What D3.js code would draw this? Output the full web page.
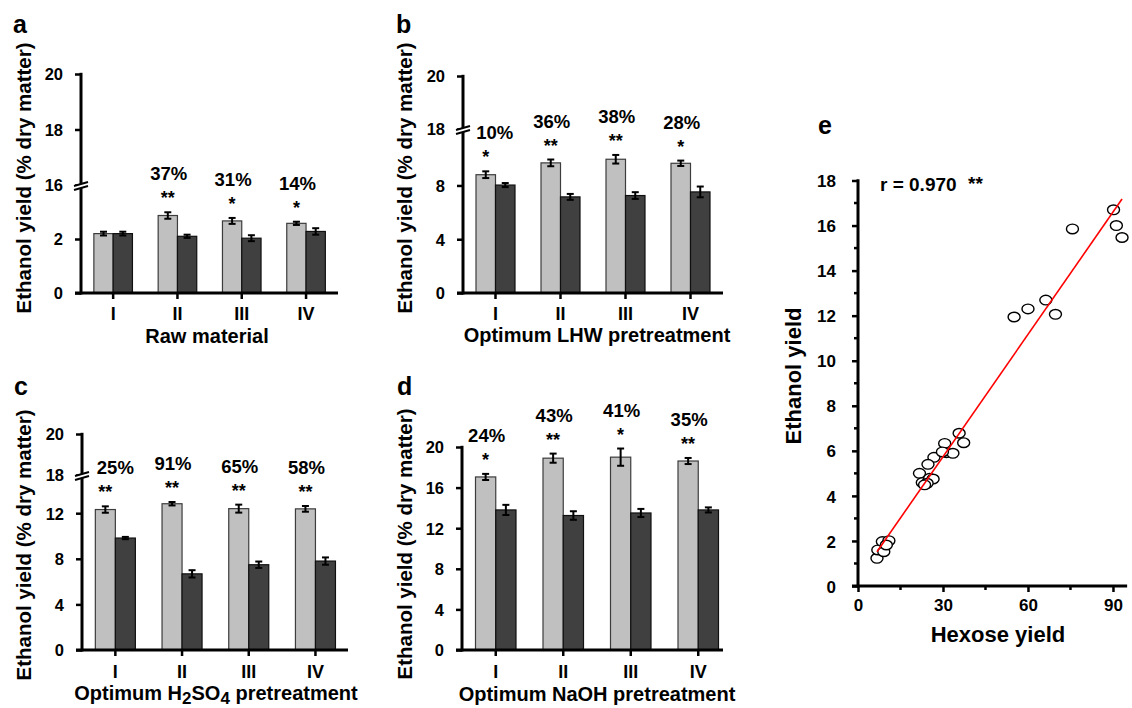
<!DOCTYPE html>
<html>
<head>
<meta charset="utf-8">
<script src="https://cdn.jsdelivr.net/npm/d3@7"></script>
<style>
  html, body { margin: 0; padding: 0; background: #fff; }
  svg { display: block; }
  text { font-family: "Liberation Sans", Arial, Helvetica, sans-serif; font-weight: bold; fill: #000; }
</style>
</head>
<body>
<svg id="chart" width="1132" height="708"></svg>
<script>
// ---------------- DATA ----------------
const categories = ["I", "II", "III", "IV"];

// Panel a: Raw material
const rawLight    = [2.20, 2.87, 2.67, 2.58];
const rawLightErr = [0.07, 0.12, 0.11, 0.06];
const rawDark     = [2.20, 2.10, 2.03, 2.28];
const rawDarkErr  = [0.07, 0.06, 0.11, 0.12];
const rawPct      = ["", "37%", "31%", "14%"];
const rawSig      = ["", "**", "*", "*"];
const rawTicks    = [0, 2, 16, 18, 20];

// Panel b: Optimum LHW pretreatment
const lhwLight    = [8.80, 9.68, 9.95, 9.65];
const lhwLightErr = [0.25, 0.25, 0.32, 0.20];
const lhwDark     = [8.03, 7.15, 7.25, 7.52];
const lhwDarkErr  = [0.15, 0.22, 0.25, 0.40];
const lhwPct      = ["10%", "36%", "38%", "28%"];
const lhwSig      = ["*", "**", "**", "*"];
const lhwTicks    = [0, 4, 8, 18, 20];

// Panel c: Optimum H2SO4 pretreatment
const acidLight    = [12.32, 12.83, 12.40, 12.38];
const acidLightErr = [0.28, 0.15, 0.35, 0.25];
const acidDark     = [9.82, 6.68, 7.48, 7.80];
const acidDarkErr  = [0.10, 0.32, 0.28, 0.32];
const acidPct      = ["25%", "91%", "65%", "58%"];
const acidSig      = ["**", "**", "**", "**"];
const acidTicks    = [0, 4, 8, 12, 18, 20];

// Panel d: Optimum NaOH pretreatment
const alkLight    = [17.05, 18.90, 19.00, 18.62];
const alkLightErr = [0.30, 0.45, 0.85, 0.30];
const alkDark     = [13.80, 13.25, 13.50, 13.80];
const alkDarkErr  = [0.50, 0.42, 0.40, 0.25];
const alkPct      = ["24%", "43%", "41%", "35%"];
const alkSig      = ["*", "**", "*", "**"];
const alkTicks    = [0, 4, 8, 12, 16, 20];

// Panel e: correlation
const hexoseYield  = [90.2, 91.2, 93.2, 75.7, 66.3, 69.7, 60.0, 55.1,
                      35.7, 37.3, 30.6, 31.2, 33.5, 26.8, 24.7, 21.7, 22.7, 25.3, 26.5, 24.4, 23.5, 29.8,
                      6.7, 7.0, 9.1, 8.6, 10.9, 10.0];
const ethanolYield = [16.70, 16.00, 15.47, 15.85, 12.69, 12.06, 12.30, 11.94,
                      6.78, 6.36, 6.33, 5.92, 5.89, 5.71, 5.40, 5.00, 4.59, 4.78, 4.75, 4.56, 4.49, 5.95,
                      1.23, 1.60, 1.52, 1.97, 2.01, 1.82];
const fitSlope = 0.181, fitIntercept = 0.307, fitRange = [6.7, 93.2];
const corrText = "r = 0.970";
const corrSig = "**";
const eXTicks = [0, 30, 60, 90];
const eXMinor = [15, 45, 75];
const eYTicks = [0, 2, 4, 6, 8, 10, 12, 14, 16, 18];
const eYMinor = [1, 3, 5, 7, 9, 11, 13, 15, 17];

// ---------------- DRAWING ----------------
const svg = d3.select("#chart");
const LIGHT = "#c0c0c0", LIGHT_STROKE = "#3c3c3c", DARK = "#404040", DARK_STROKE = "#101010";

function drawBarPanel(cfg) {
  const g = svg.append("g");
  const step = cfg.step;
  const x = d3.scaleBand().domain(categories)
      .range([cfg.axisX, cfg.axisX + 4 * step]).paddingInner(0.4).paddingOuter(0.2);
  const x1 = d3.scaleBand().domain(["light", "dark"]).range([0, x.bandwidth()]);
  const y = d3.scaleLinear().domain(cfg.yDomain).range(cfg.yRange);

  // bars
  const series = [
    {key: "light", vals: cfg.light, errs: cfg.lightErr, fill: LIGHT, stroke: LIGHT_STROKE},
    {key: "dark",  vals: cfg.dark,  errs: cfg.darkErr,  fill: DARK,  stroke: DARK_STROKE}
  ];
  series.forEach(s => {
    const data = categories.map((c, i) => ({c, v: s.vals[i], e: s.errs[i]}));
    g.selectAll(null).data(data).enter().append("rect")
      .attr("x", d => x(d.c) + x1(s.key))
      .attr("y", d => y(d.v))
      .attr("width", x1.bandwidth())
      .attr("height", d => y(0) - y(d.v))
      .attr("fill", s.fill).attr("stroke", s.stroke).attr("stroke-width", 1.2);
    const cx = d => x(d.c) + x1(s.key) + x1.bandwidth() / 2;
    g.selectAll(null).data(data).enter().append("line")
      .attr("x1", cx).attr("x2", cx)
      .attr("y1", d => y(d.v - d.e)).attr("y2", d => y(d.v + d.e))
      .attr("stroke", "#000").attr("stroke-width", 2);
    [-1, 1].forEach(sgn => {
      g.selectAll(null).data(data).enter().append("line")
        .attr("x1", d => cx(d) - 3.5).attr("x2", d => cx(d) + 3.5)
        .attr("y1", d => y(d.v + sgn * d.e)).attr("y2", d => y(d.v + sgn * d.e))
        .attr("stroke", "#000").attr("stroke-width", 2);
    });
  });

  // significance labels
  const lab = categories.map((c, i) => ({c, i, pct: cfg.pct[i], sig: cfg.sig[i],
      top: cfg.light[i] + cfg.lightErr[i]}));
  const lx = d => x(d.c) + x1("light") + x1.bandwidth() / 2;
  g.selectAll(null).data(lab.filter(d => d.pct)).enter().append("text")
    .attr("x", d => lx(d) + (cfg.pctShift ? cfg.pctShift[d.i] : 0) + 1)
    .attr("y", d => y(d.top) - 32)
    .attr("text-anchor", "middle").style("font-size", "18.5px").text(d => d.pct);
  g.selectAll(null).data(lab.filter(d => d.sig)).enter().append("text")
    .attr("x", d => lx(d))
    .attr("y", d => y(d.top) - 8)
    .attr("text-anchor", "middle").style("font-size", "18px").text(d => d.sig);

  // y axis
  const yAxis = d3.axisLeft(y).tickValues(cfg.ticks).tickSize(6).tickPadding(12).tickFormat(d3.format("d"));
  const ya = g.append("g").attr("transform", `translate(${cfg.axisX},0)`).call(yAxis);
  ya.select(".domain").remove();
  ya.selectAll(".tick line").attr("stroke", "#000").attr("stroke-width", 2.5);
  ya.selectAll(".tick text").style("font-size", "16.5px").attr("dy", "0.36em");
  g.append("line").attr("x1", cfg.axisX).attr("x2", cfg.axisX)
    .attr("y1", y(20) - 1.2).attr("y2", y(0) + 1.5)
    .attr("stroke", "#000").attr("stroke-width", 3);

  // x axis
  const xAxis = d3.axisBottom(x).tickSize(6).tickPadding(8);
  const xa = g.append("g").attr("transform", `translate(0,${y(0)})`).call(xAxis);
  xa.select(".domain").remove();
  xa.selectAll(".tick line").attr("stroke", "#000").attr("stroke-width", 2.5);
  xa.selectAll(".tick text").style("font-size", "18px").attr("dy", 0)
    .attr("y", cfg.catBaseline - y(0));
  g.append("line").attr("x1", cfg.axisX - 6).attr("x2", cfg.xAxisEnd)
    .attr("y1", y(0)).attr("y2", y(0)).attr("stroke", "#000").attr("stroke-width", 3);

  // axis break
  if (cfg.breakAt !== undefined) {
    const by = y(cfg.breakAt);
    const ax = cfg.axisX;
    g.append("polygon")
      .attr("points", `${ax-7},${by+1} ${ax+7},${by-3} ${ax+7},${by+1} ${ax-7},${by+5}`)
      .attr("fill", "#fff");
    [0, 4].forEach(o => {
      g.append("line").attr("x1", ax - 7).attr("y1", by + 1 + o).attr("x2", ax + 7).attr("y2", by - 3 + o)
        .attr("stroke", "#000").attr("stroke-width", 2);
    });
  }

  // titles
  g.append("text").attr("transform", `translate(${cfg.yTitleX},${cfg.yTitleY}) rotate(-90)`)
    .attr("text-anchor", "middle").style("font-size", "20.5px").text("Ethanol yield (% dry matter)");
  const xt = g.append("text").attr("x", cfg.xTitleX).attr("y", cfg.xTitleY)
    .attr("text-anchor", "middle").style("font-size", "20px");
  cfg.xTitle.forEach(part => {
    const t = xt.append("tspan").text(part.t);
    if (part.sub) t.attr("dy", 3.5).style("font-size", "17px");
    else if (part.after) t.attr("dy", -3.5);
  });
  g.append("text").attr("x", cfg.letterX).attr("y", cfg.letterY)
    .style("font-size", "25px").text(cfg.letter);
}

drawBarPanel({
  letter: "a", letterX: 13, letterY: 33,
  axisX: 81, step: 64.3, xAxisEnd: 338,
  yDomain: [0, 4, 16, 20], yRange: [293, 185, 185, 74], breakAt: 16, ticks: rawTicks,
  light: rawLight, lightErr: rawLightErr, dark: rawDark, darkErr: rawDarkErr,
  pct: rawPct, sig: rawSig, catBaseline: 320,
  yTitleX: 31, yTitleY: 178,
  xTitle: [{t: "Raw material"}], xTitleX: 207, xTitleY: 343
});
drawBarPanel({
  letter: "b", letterX: 396, letterY: 33,
  axisX: 463, step: 65, xAxisEnd: 723,
  yDomain: [0, 12.2, 18, 20], yRange: [293, 129, 129, 76], breakAt: 18, ticks: lhwTicks,
  light: lhwLight, lightErr: lhwLightErr, dark: lhwDark, darkErr: lhwDarkErr,
  pct: lhwPct, sig: lhwSig, pctShift: [8, 0, 0, 0], catBaseline: 320,
  yTitleX: 412, yTitleY: 178,
  xTitle: [{t: "Optimum LHW pretreatment"}], xTitleX: 597, xTitleY: 342
});
drawBarPanel({
  letter: "c", letterX: 14, letterY: 395,
  axisX: 82, step: 66.7, xAxisEnd: 348,
  yDomain: [0, 15.35, 18, 20], yRange: [650, 475, 475, 434], breakAt: 18, ticks: acidTicks,
  light: acidLight, lightErr: acidLightErr, dark: acidDark, darkErr: acidDarkErr,
  pct: acidPct, sig: acidSig, pctShift: [9, 0, 0, 0], catBaseline: 678,
  yTitleX: 31, yTitleY: 545,
  xTitle: [{t: "Optimum H"}, {t: "2", sub: true}, {t: "SO", after: true}, {t: "4", sub: true}, {t: " pretreatment", after: true}],
  xTitleX: 216, xTitleY: 700
});
drawBarPanel({
  letter: "d", letterX: 397, letterY: 395,
  axisX: 462, step: 67.5, xAxisEnd: 723,
  yDomain: [0, 20], yRange: [650, 447], ticks: alkTicks,
  light: alkLight, lightErr: alkLightErr, dark: alkDark, darkErr: alkDarkErr,
  pct: alkPct, sig: alkSig, catBaseline: 678,
  yTitleX: 412, yTitleY: 544,
  xTitle: [{t: "Optimum NaOH pretreatment"}], xTitleX: 597, xTitleY: 701
});

// ---------------- Panel e ----------------
(function () {
  const g = svg.append("g");
  const axX = 858, axY = 586;
  const x = d3.scaleLinear().domain([0, 95]).range([axX, axX + 95 * 2.833]);
  const y = d3.scaleLinear().domain([0, 18]).range([axY, 180.5]);

  // y axis
  const ya = g.append("g").attr("transform", `translate(${axX},0)`)
    .call(d3.axisLeft(y).tickValues(eYTicks).tickSize(6).tickPadding(16).tickFormat(d3.format("d")));
  ya.select(".domain").remove();
  ya.selectAll(".tick line").attr("stroke", "#000").attr("stroke-width", 2.5);
  ya.selectAll(".tick text").style("font-size", "17px").attr("dy", "0.36em");
  g.selectAll(null).data(eYMinor).enter().append("line")
    .attr("x1", axX - 4).attr("x2", axX).attr("y1", d => y(d)).attr("y2", d => y(d))
    .attr("stroke", "#000").attr("stroke-width", 2.5);
  g.append("line").attr("x1", axX).attr("x2", axX).attr("y1", y(18) - 1.2).attr("y2", axY + 1.5)
    .attr("stroke", "#000").attr("stroke-width", 3);

  // x axis
  const xa = g.append("g").attr("transform", `translate(0,${axY})`)
    .call(d3.axisBottom(x).tickValues(eXTicks).tickSize(6).tickPadding(8).tickFormat(d3.format("d")));
  xa.select(".domain").remove();
  xa.selectAll(".tick line").attr("stroke", "#000").attr("stroke-width", 2.5);
  xa.selectAll(".tick text").style("font-size", "17px").attr("dy", 0).attr("y", 25);
  g.selectAll(null).data(eXMinor).enter().append("line")
    .attr("x1", d => x(d)).attr("x2", d => x(d)).attr("y1", axY).attr("y2", axY + 4)
    .attr("stroke", "#000").attr("stroke-width", 2.5);
  g.append("line").attr("x1", axX - 6).attr("x2", x(95)).attr("y1", axY).attr("y2", axY)
    .attr("stroke", "#000").attr("stroke-width", 3);

  // points
  const pts = hexoseYield.map((h, i) => ({h, e: ethanolYield[i]}));
  g.selectAll(null).data(pts).enter().append("ellipse")
    .attr("cx", d => x(d.h)).attr("cy", d => y(d.e)).attr("rx", 6).attr("ry", 4.8)
    .attr("fill", "#fff").attr("stroke", "#000").attr("stroke-width", 1.4);

  // regression line
  g.append("line")
    .attr("x1", x(fitRange[0])).attr("y1", y(fitSlope * fitRange[0] + fitIntercept))
    .attr("x2", x(fitRange[1])).attr("y2", y(fitSlope * fitRange[1] + fitIntercept))
    .attr("stroke", "#ff0000").attr("stroke-width", 1.6);

  g.append("text").attr("x", 880).attr("y", 191).style("font-size", "19px").text(corrText);
  g.append("text").attr("x", 968).attr("y", 190).style("font-size", "19px").text(corrSig);

  g.append("text").attr("transform", `translate(801,376) rotate(-90)`)
    .attr("text-anchor", "middle").style("font-size", "22px").text("Ethanol yield");
  g.append("text").attr("x", 998).attr("y", 642).attr("text-anchor", "middle")
    .style("font-size", "22px").text("Hexose yield");
  g.append("text").attr("x", 818).attr("y", 134).style("font-size", "25px").text("e");
})();
</script>
</body>
</html>
